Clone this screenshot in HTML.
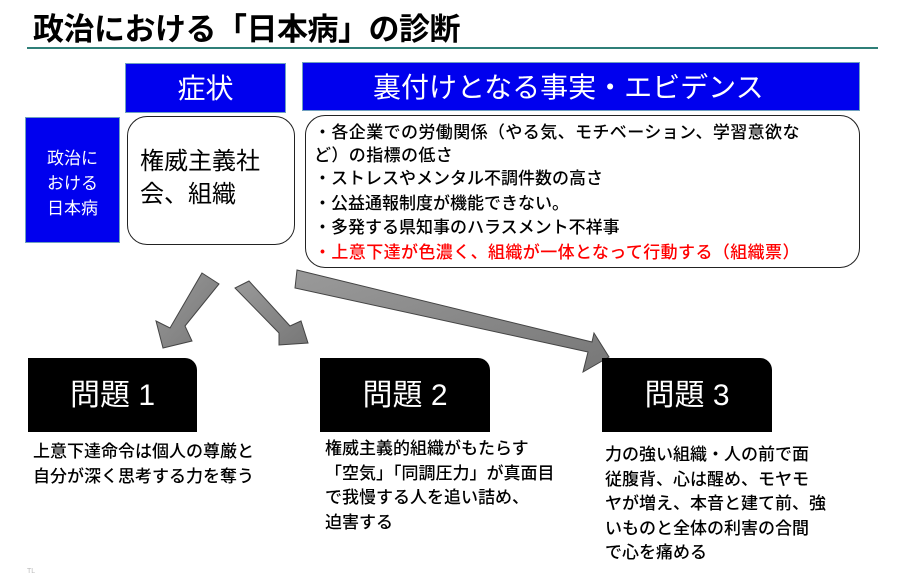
<!DOCTYPE html>
<html><head><meta charset="utf-8"><style>
body{margin:0;width:900px;height:580px;background:#fff;position:relative;overflow:hidden;font-family:"Liberation Sans","Noto Sans CJK JP",sans-serif;}
.a{position:absolute;}
.blue{background:#0000ee;color:#fff;border:1px solid #6fa0c0;box-sizing:border-box;}
.rb{border:1.5px solid #222;border-radius:20px;box-sizing:border-box;background:#fff;}
.blk{background:#000;color:#fff;border-top-right-radius:12px;font-size:30px;text-align:center;line-height:75px;}
.t{font-size:17px;line-height:24.5px;color:#000;font-weight:500;}
</style></head><body>
<div class="a" style="left:33px;top:4px;font-size:31px;font-weight:bold;letter-spacing:-0.5px">政治における「日本病」の診断</div>
<div class="a" style="left:27px;top:47px;width:851px;height:2px;background:#2f7f78"></div>
<div class="a blue" style="left:125px;top:63px;width:161px;height:50px;font-size:28px;text-align:center;line-height:50px">症状</div>
<div class="a blue" style="left:302px;top:62px;width:558px;height:49px;font-size:28px;line-height:49px;padding-left:70px">裏付けとなる事実・エビデンス</div>
<div class="a blue" style="left:25px;top:117px;width:95px;height:126px;font-size:17px;line-height:25px;text-align:center;padding-top:28px">政治に<br>おける<br>日本病</div>
<div class="a rb" style="left:127px;top:116px;width:168px;height:129px;font-size:24px;line-height:33px;padding:28px 0 0 12px">権威主義社<br>会、組織</div>
<div class="a rb" style="left:305px;top:115px;width:555px;height:153px;padding:5px 0 0 8px" >
<div class="t" style="line-height:23px;letter-spacing:0.4px">・各企業での労働関係（やる気、モチベーション、学習意欲な<br>ど）の指標の低さ</div>
<div class="t">・ストレスやメンタル不調件数の高さ</div>
<div class="t">・公益通報制度が機能できない。</div>
<div class="t">・多発する県知事のハラスメント不祥事</div>
<div class="t" style="color:#f00;letter-spacing:0.4px">・上意下達が色濃く、組織が一体となって行動する（組織票）</div>
</div>
<svg class="a" style="left:0;top:0" width="900" height="580">
<defs><linearGradient id="g" x1="0" y1="0" x2="1" y2="1"><stop offset="0" stop-color="#9a9a9a"/><stop offset="1" stop-color="#777"/></linearGradient></defs>
<g fill="url(#g)" stroke="#444" stroke-width="1">
<polygon points="202,273 219,284 185,326 192,341 163,348 156,321 170,328"/>
<polygon points="249,281 235,288 279,333 279,345 308,343 301,321 290,326"/>
<polygon points="297,270 295,288 588,352 583,372 609,357 594,333 592,342"/>
</g></svg>
<div class="a blk" style="left:28px;top:358px;width:169px;height:74px">問題 1</div>
<div class="a blk" style="left:320px;top:358px;width:170px;height:74px">問題 2</div>
<div class="a blk" style="left:602px;top:358px;width:170px;height:74px">問題 3</div>
<div class="a t" style="left:33px;top:440px">上意下達命令は個人の尊厳と<br>自分が深く思考する力を奪う</div>
<div class="a t" style="left:325px;top:437px">権威主義的組織がもたらす<br>「空気」「同調圧力」が真面目<br>で我慢する人を追い詰め、<br>迫害する</div>
<div class="a t" style="left:605px;top:443px">力の強い組織・人の前で面<br>従腹背、心は醒め、モヤモ<br>ヤが増え、本音と建て前、強<br>いものと全体の利害の合間<br>で心を痛める</div>
<div class="a" style="left:27px;top:568px;font-size:7px;color:#bbb">TL</div>
</body></html>
